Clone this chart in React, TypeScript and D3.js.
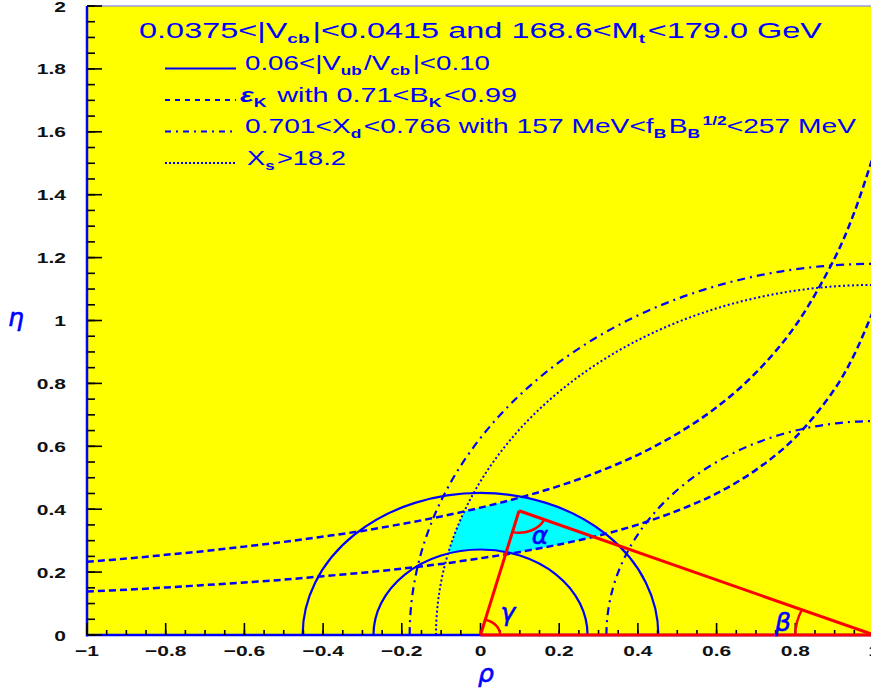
import React from 'react';
import * as d3 from 'd3';

// ---------- data ----------
const xTickLabels = ['\u22121', '\u22120.8', '\u22120.6', '\u22120.4', '\u22120.2', '0', '0.2', '0.4', '0.6', '0.8', '1'];
const yTickLabels = ['0', '0.2', '0.4', '0.6', '0.8', '1', '1.2', '1.4', '1.6', '1.8', '2'];

// |Vub/Vcb| circles centred on (0,0)
const vubRadii = [0.272, 0.452];
// x_d circles centred on (1,0)
const xdRadii = [0.68, 1.18];
// x_s circle centred on (1,0)
const xsRadius = 1.113;
// unitarity triangle apex (rho, eta)
const apex: [number, number] = [0.098, 0.395];

// epsilon_K hyperbolas, read at these rho values
const rhoSamples = [-1, -0.9, -0.8, -0.7, -0.6, -0.5, -0.4, -0.3, -0.2, -0.1, 0, 0.1, 0.2, 0.3, 0.4, 0.5, 0.6, 0.7, 0.8, 0.9, 0.95, 1.0];
const epsUpper = [0.233, 0.243, 0.255, 0.267, 0.281, 0.296, 0.313, 0.331, 0.353, 0.377, 0.405, 0.437, 0.474, 0.519, 0.573, 0.640, 0.724, 0.834, 0.983, 1.198, 1.344, 1.531];
const epsLower = [0.138, 0.144, 0.151, 0.159, 0.167, 0.176, 0.187, 0.198, 0.211, 0.226, 0.244, 0.264, 0.288, 0.316, 0.351, 0.395, 0.450, 0.525, 0.628, 0.782, 0.892, 1.037];

const BLUE = '#0000ff';
const RED = '#ff0000';
const FONT = '"Liberation Sans", Arial, Helvetica, sans-serif';

export default function App() {
  const W = 871, H = 691;
  const x = d3.scaleLinear().domain([-1, 1]).range([87, 874]);
  const y = d3.scaleLinear().domain([0, 2]).range([635, 6]);
  const rx = (r: number) => x(r) - x(0);
  const ry = (r: number) => y(0) - y(r);
  const semi = (cx: number, r: number, close = false) =>
    `M${x(cx - r)},${y(0)}A${rx(r)},${ry(r)} 0 0 1 ${x(cx + r)},${y(0)}${close ? 'Z' : ''}`;

  const upperPts = rhoSamples.map((r, i) => [r, epsUpper[i]] as [number, number]);
  const lowerPts = rhoSamples.map((r, i) => [r, epsLower[i]] as [number, number]);
  const line = d3.line<[number, number]>().x(d => x(d[0])).y(d => y(d[1])).curve(d3.curveCatmullRom);
  const bandPath = line(upperPts)! + 'L' + line([...lowerPts].reverse())!.slice(1) + 'Z';

  const minorX = x.ticks(40);
  const majorX = x.ticks(10);
  const minorY = y.ticks(40);
  const majorY = y.ticks(10);

  // angle arcs (circles in data space)
  const arcPath = (c: [number, number], r: number, p1: [number, number], p2: [number, number], sweep: number) => {
    const u = (p: [number, number]) => {
      const dx = p[0] - c[0], dy = p[1] - c[1];
      const L = Math.hypot(dx, dy);
      return [c[0] + (r * dx) / L, c[1] + (r * dy) / L];
    };
    const a = u(p1), b = u(p2);
    return `M${x(a[0])},${y(a[1])}A${rx(r)},${ry(r)} 0 0 ${sweep} ${x(b[0])},${y(b[1])}`;
  };
  const O: [number, number] = [0, 0];
  const B1: [number, number] = [1, 0];
  const gammaArc = arcPath(O, 0.05, B1, apex, 0);
  const betaArc = arcPath(B1, 0.2, O, apex, 1);
  const alphaArc = arcPath(apex, 0.07, O, B1, 0);

  const sub = (t: string, size = 13) => (
    <>
      <tspan dy={5} fontSize={size} fontWeight="bold">{t}</tspan>
      <tspan dy={-5}>{'\u200A'}</tspan>
    </>
  );

  return (
    <svg width={W} height={H} style={{ position: 'absolute', left: 0, top: 0, background: '#fff' }} fontFamily={FONT}>
      <defs>
        <clipPath id="plot"><rect x={x(-1)} y={y(2)} width={x(1) - x(-1)} height={y(0) - y(2)} /></clipPath>
        <clipPath id="cOuter"><path d={semi(0, vubRadii[1], true)} /></clipPath>
        <clipPath id="cBand"><path d={bandPath} /></clipPath>
        <clipPath id="cXs"><path d={semi(1, xsRadius, true)} /></clipPath>
        <clipPath id="cXd"><path d={semi(1, xdRadii[1], true)} /></clipPath>
        <mask id="mExcl">
          <rect x={0} y={0} width={W} height={H} fill="#fff" />
          <path d={semi(0, vubRadii[0], true)} fill="#000" />
          <path d={semi(1, xdRadii[0], true)} fill="#000" />
        </mask>
      </defs>

      {/* plot background */}
      <rect x={x(-1)} y={y(2)} width={x(1) - x(-1)} height={y(0) - y(2)} fill="#ffff00" />

      {/* allowed region */}
      <g clipPath="url(#cOuter)">
        <g clipPath="url(#cBand)">
          <g clipPath="url(#cXs)">
            <g clipPath="url(#cXd)">
              <rect x={x(-1)} y={y(2)} width={x(1) - x(-1)} height={y(0) - y(2)} fill="#00ffff" mask="url(#mExcl)" />
            </g>
          </g>
        </g>
      </g>

      <g clipPath="url(#plot)" fill="none" stroke={BLUE}>
        {vubRadii.map((r, i) => <path key={'v' + i} d={semi(0, r)} strokeWidth={2.2} />)}
        <path d={line(upperPts)!} strokeWidth={2.5} strokeDasharray="7 4" />
        <path d={line(lowerPts)!} strokeWidth={2.5} strokeDasharray="7 4" />
        {xdRadii.map((r, i) => <path key={'d' + i} d={semi(1, r)} strokeWidth={2.2} strokeDasharray="8 5 2 5" />)}
        <path d={semi(1, xsRadius)} strokeWidth={2} strokeDasharray="2 2.5" />
      </g>

      {/* frame */}
      <line x1={x(-1)} x2={x(1)} y1={y(2)} y2={y(2)} stroke="#6b6bff" strokeWidth={1.2} />
      <line x1={x(-1)} x2={x(-1)} y1={y(2)} y2={y(0) + 1.5} stroke={BLUE} strokeWidth={2.5} />
      <line x1={x(-1)} x2={x(1)} y1={y(0)} y2={y(0)} stroke={BLUE} strokeWidth={2.5} />

      {/* ticks */}
      <g stroke="#000" strokeWidth={1.6}>
        {minorX.map((v, i) => <line key={'mx' + i} x1={x(v)} x2={x(v)} y1={y(0)} y2={y(0) - 5} />)}
        {majorX.map((v, i) => <line key={'Mx' + i} x1={x(v)} x2={x(v)} y1={y(0)} y2={y(0) - 12} />)}
        {minorY.map((v, i) => <line key={'my' + i} x1={x(-1)} x2={x(-1) + 8} y1={y(v)} y2={y(v)} />)}
        {majorY.map((v, i) => <line key={'My' + i} x1={x(-1)} x2={x(-1) + 15} y1={y(v)} y2={y(v)} />)}
      </g>

      {/* triangle */}
      <g fill="none" stroke={RED} strokeWidth={3}>
        <line x1={x(0)} y1={y(0)} x2={x(1)} y2={y(0)} />
        <line x1={x(0)} y1={y(0)} x2={x(apex[0])} y2={y(apex[1])} />
        <line x1={x(apex[0])} y1={y(apex[1])} x2={x(1)} y2={y(0)} />
        <path d={gammaArc} strokeWidth={2.5} />
        <path d={betaArc} strokeWidth={2.5} />
        <path d={alphaArc} strokeWidth={2.5} />
      </g>

      {/* tick labels */}
      <g fill="#111" fontSize={15} fontWeight="bold">
        {majorX.map((v, i) => (
          <g key={'lx' + i} transform={`translate(${x(v)},656) scale(1.4,1)`}>
            <text textAnchor="middle">{xTickLabels[i]}</text>
          </g>
        ))}
        {majorY.map((v, i) => (
          <g key={'ly' + i} transform={`translate(66,${y(v) + 5.5}) scale(1.4,1)`}>
            <text textAnchor="end">{yTickLabels[i]}</text>
          </g>
        ))}
      </g>

      {/* axis titles and angle labels */}
      <g fill={BLUE} fontStyle="italic" fontFamily={'"DejaVu Sans", sans-serif'} fontSize={25} stroke={BLUE} strokeWidth={0.6}>
        <text x={16} y={326} textAnchor="middle">η</text>
        <text x={486} y={682} textAnchor="middle">ρ</text>
        <text x={508} y={621} textAnchor="middle">γ</text>
        <text x={540} y={544} textAnchor="middle">α</text>
        <text x={783} y={631} textAnchor="middle">β</text>
      </g>

      {/* legend */}
      <g fill={BLUE}>
        <text x={139} y={38} fontSize={22} textLength={683} lengthAdjust="spacingAndGlyphs">
          0.0375&lt;|V{sub('cb')}|&lt;0.0415 and 168.6&lt;M{sub('t')}&lt;179.0 GeV
        </text>
        <text x={245} y={70} fontSize={21} textLength={245} lengthAdjust="spacingAndGlyphs">
          0.06&lt;|V{sub('ub')}/V{sub('cb')}|&lt;0.10
        </text>
        <text x={240} y={101.5} fontSize={21} textLength={277} lengthAdjust="spacingAndGlyphs">
          <tspan fontStyle="italic" fontWeight="bold">ε</tspan>{sub('K')} with 0.71&lt;B{sub('K')}&lt;0.99
        </text>
        <text x={245} y={133} fontSize={21} textLength={611} lengthAdjust="spacingAndGlyphs">
          0.701&lt;X{sub('d')}&lt;0.766 with 157 MeV&lt;f{sub('B')}B{sub('B')}<tspan dy={-8} fontSize={13} fontWeight="bold">1/2</tspan><tspan dy={8}>&lt;257 MeV</tspan>
        </text>
        <text x={247} y={164.5} fontSize={21} textLength={99} lengthAdjust="spacingAndGlyphs">
          X{sub('s')}&gt;18.2
        </text>
      </g>
      <g stroke={BLUE} fill="none">
        <line x1={165} x2={236} y1={68.5} y2={68.5} strokeWidth={2} />
        <line x1={165} x2={236} y1={100} y2={100} strokeWidth={2} strokeDasharray="5 5" />
        <line x1={165} x2={236} y1={131.5} y2={131.5} strokeWidth={2} strokeDasharray="6 5 2 5" />
        <line x1={165} x2={236} y1={163} y2={163} strokeWidth={2} strokeDasharray="2 2" />
      </g>
    </svg>
  );
}
